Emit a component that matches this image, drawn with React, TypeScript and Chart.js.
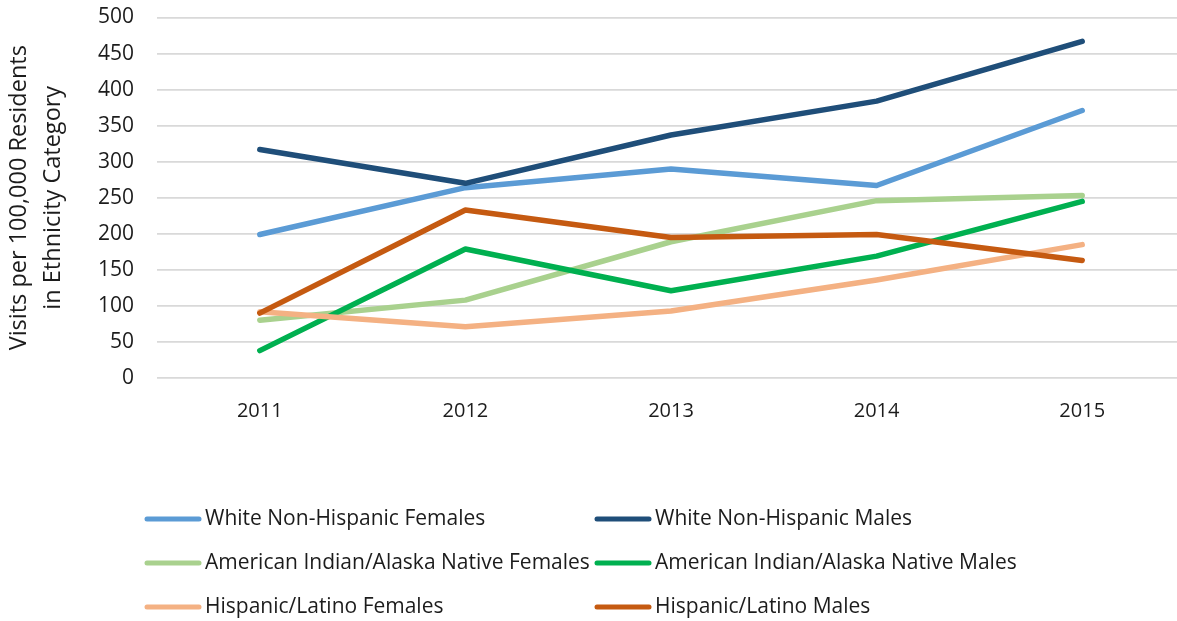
import React, { useEffect, useRef } from "react";
import { Chart, registerables } from "chart.js";

Chart.register(...registerables);

const years = ["2011", "2012", "2013", "2014", "2015"];
const whiteFemales = [199, 264, 290, 267, 371];
const whiteMales = [317, 270, 337, 384, 467];
const aianFemales = [80, 108, 189, 246, 253];
const aianMales = [38, 179, 121, 169, 245];
const hispFemales = [92, 71, 93, 136, 185];
const hispMales = [90, 233, 195, 199, 163];

const seriesNames = [
  "White Non-Hispanic Females",
  "White Non-Hispanic Males",
  "American Indian/Alaska Native Females",
  "American Indian/Alaska Native Males",
  "Hispanic/Latino Females",
  "Hispanic/Latino Males",
];
const seriesData = [whiteFemales, whiteMales, aianFemales, aianMales, hispFemales, hispMales];
const seriesColors = ["#5B9BD5", "#1F4E79", "#A9D18E", "#00B050", "#F4B183", "#C55A11"];

const yTitle = ["Visits per 100,000 Residents", "in Ethnicity Category"];
const FONT = "'Open Sans', sans-serif";
const TEXT = "#1c1c1c";

const legendPlugin = {
  id: "gridLegend",
  afterDraw(chart: any) {
    const ctx = chart.ctx;
    ctx.save();
    const colX = [145, 595];
    const rowY = [519, 563, 607];
    seriesNames.forEach((name, i) => {
      const col = i % 2;
      const row = Math.floor(i / 2);
      const x = colX[col];
      const y = rowY[row];
      ctx.strokeStyle = seriesColors[i];
      ctx.lineWidth = 5;
      ctx.lineCap = "round";
      ctx.beginPath();
      ctx.moveTo(x + 2, y);
      ctx.lineTo(x + 54, y);
      ctx.stroke();
      ctx.fillStyle = TEXT;
      ctx.font = `21px ${FONT}`;
      ctx.textBaseline = "middle";
      ctx.textAlign = "left";
      ctx.fillText(name, x + 60, y);
    });
    ctx.restore();
  },
};

export default function App() {
  const ref = useRef<HTMLCanvasElement | null>(null);
  useEffect(() => {
    if (!ref.current) return;
    const chart = new Chart(ref.current, {
      type: "line",
      data: {
        labels: years,
        datasets: seriesData.map((d, i) => ({
          label: seriesNames[i],
          data: d,
          borderColor: seriesColors[i],
          backgroundColor: seriesColors[i],
          borderWidth: 5.5,
          borderCapStyle: "round",
          borderJoinStyle: "round",
          pointRadius: 0,
          tension: 0,
          fill: false,
          order: seriesData.length - i,
        })),
      },
      options: {
        responsive: false,
        animation: false,
        layout: { padding: { top: 17.5, right: 0, bottom: 183, left: 0 } },
        plugins: { legend: { display: false }, tooltip: { enabled: false } },
        scales: {
          x: {
            type: "category",
            offset: true,
            grid: { display: false, drawTicks: false },
            border: { display: false },
            ticks: { color: TEXT, font: { family: FONT, size: 20 }, padding: 21, maxRotation: 0 },
            afterFit(scale: any) {
              scale.height = 60;
            },
          },
          y: {
            min: 0,
            max: 500,
            ticks: { stepSize: 50, color: TEXT, font: { family: FONT, size: 21 }, padding: 23 },
            grid: { color: "#d9d9d9", lineWidth: 1.7, drawTicks: false },
            border: { display: false },
            title: {
              display: true,
              text: yTitle,
              color: TEXT,
              font: { family: FONT, size: 23.5, lineHeight: 1.45 },
              padding: { top: 2, bottom: 0 },
            },
            afterFit(scale: any) {
              scale.width = 157;
              scale.paddingTop = 0;
              scale.paddingBottom = 0;
            },
          },
        },
      },
      plugins: [legendPlugin],
    });
    return () => chart.destroy();
  }, []);
  return (
    <div style={{ position: "absolute", left: 0, top: 0, width: 1177, height: 621, overflow: "hidden", background: "#fff" }}>
      <canvas ref={ref} width={1185} height={621} style={{ display: "block", width: 1185, height: 621 }} />
    </div>
  );
}
